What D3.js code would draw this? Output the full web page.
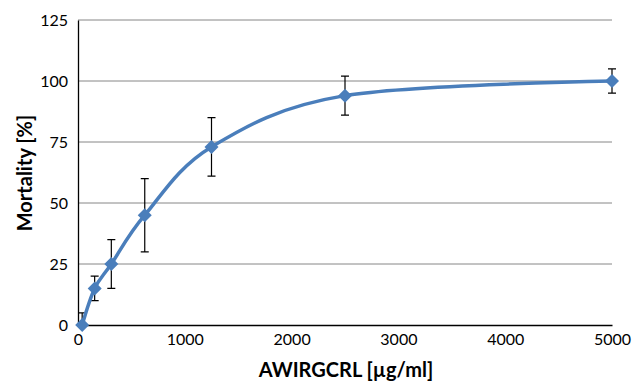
<!DOCTYPE html>
<html>
<head>
<meta charset="utf-8">
<script src="https://cdn.jsdelivr.net/npm/d3@7"></script>
<style>
  body { margin: 0; background: #fff; }
  text { font-family: Lato, "Open Sans", sans-serif; }
</style>
</head>
<body>
<div id="chart"></div>
<script>
// concentrations (µg/ml) and mortality readings
const doses = [39, 156, 312, 625, 1250, 2500, 5000];
const mortality = [0, 15, 25, 45, 73, 94, 100];
const errors = [5, 5, 10, 15, 12, 8, 5];
const xTicks = [0, 1000, 2000, 3000, 4000, 5000];
const yTicks = [0, 25, 50, 75, 100, 125];

const data = doses.map((d, i) => ({ dose: d, value: mortality[i], err: errors[i] }));

const W = 632, H = 382;
const margin = { top: 20, right: 20, bottom: 57, left: 78 };
const width = W - margin.left - margin.right;
const height = H - margin.top - margin.bottom;

const svg = d3.select('#chart').append('svg')
  .attr('width', W)
  .attr('height', H);

const g = svg.append('g')
  .attr('transform', `translate(${margin.left},${margin.top})`);

const x = d3.scaleLinear().domain([0, 5000]).range([0, width]);
const y = d3.scaleLinear().domain([0, 125]).range([height, 0]);

svg.append('clipPath').attr('id', 'plot')
  .append('rect').attr('width', width + 20).attr('height', height).attr('x', -10);

// gridlines
g.append('g')
  .selectAll('line')
  .data(yTicks.filter(t => t > 0))
  .enter().append('line')
  .attr('x1', 0).attr('x2', width)
  .attr('y1', d => y(d)).attr('y2', d => y(d))
  .attr('stroke', '#868686')
  .attr('stroke-width', 1);

// axes
const yAxis = g.append('g')
  .call(d3.axisLeft(y).tickValues(yTicks).tickSize(0).tickPadding(10));
yAxis.select('.domain').attr('stroke', '#000').attr('stroke-width', 1.3);
yAxis.selectAll('text').attr('font-size', 16).attr('fill', '#000');

const xAxis = g.append('g')
  .attr('transform', `translate(0,${height})`)
  .call(d3.axisBottom(x).tickValues(xTicks).tickFormat(d3.format('d')).tickSize(0).tickPadding(9));
xAxis.select('.domain').attr('stroke', '#000').attr('stroke-width', 1.3);
xAxis.selectAll('text').attr('font-size', 16).attr('fill', '#000');

// error bars
const eb = g.append('g').attr('clip-path', 'url(#plot)');
eb.selectAll('.err')
  .data(data)
  .enter().append('path')
  .attr('class', 'err')
  .attr('d', d => {
    const cx = x(d.dose), t = y(d.value + d.err), b = y(d.value - d.err);
    return `M${cx - 4},${t}H${cx + 4}M${cx},${t}V${b}M${cx - 4},${b}H${cx + 4}`;
  })
  .attr('fill', 'none')
  .attr('stroke', '#000')
  .attr('stroke-width', 1.2);

// smoothed line
const line = d3.line()
  .x(d => x(d.dose))
  .y(d => y(d.value))
  .curve(d3.curveCardinal.tension(0));

g.append('path')
  .datum(data)
  .attr('d', line)
  .attr('fill', 'none')
  .attr('stroke', '#4a7ebb')
  .attr('stroke-width', 3.5);

// diamond markers
g.selectAll('.pt')
  .data(data)
  .enter().append('path')
  .attr('class', 'pt')
  .attr('transform', d => `translate(${x(d.dose)},${y(d.value)})`)
  .attr('d', 'M0,-7L7,0L0,7L-7,0Z')
  .attr('fill', '#4a7ebb');

// axis titles
svg.append('text')
  .attr('x', 346)
  .attr('y', 377)
  .attr('text-anchor', 'middle')
  .attr('font-size', 20)
  .attr('font-weight', 'bold')
  .text('AWIRGCRL [µg/ml]');

svg.append('text')
  .attr('transform', 'translate(32,173) rotate(-90)')
  .attr('text-anchor', 'middle')
  .attr('font-size', 20)
  .attr('font-weight', 'bold')
  .text('Mortality [%]');
</script>
</body>
</html>
